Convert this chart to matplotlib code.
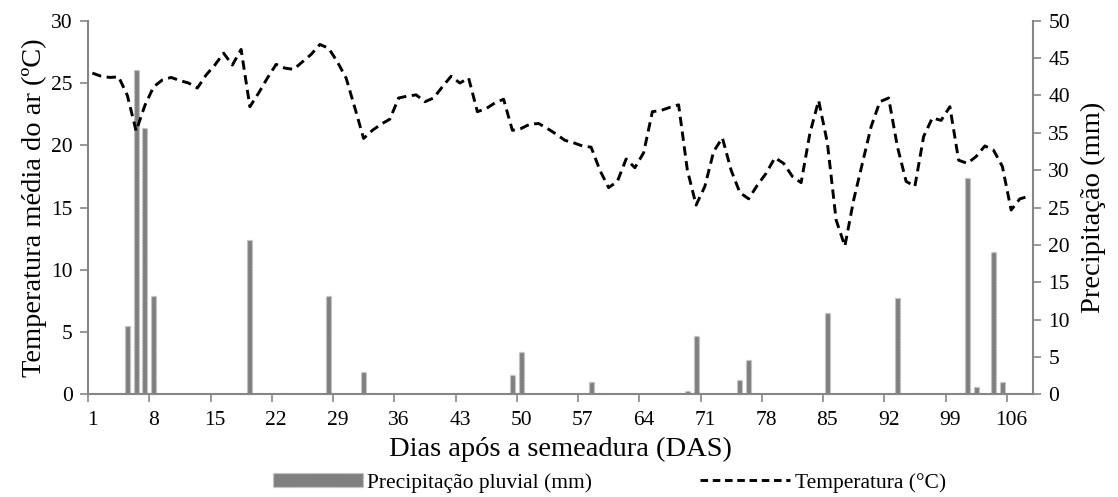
import numpy as np
import matplotlib
matplotlib.use("Agg")
import matplotlib.pyplot as plt
from matplotlib.patches import Patch
from matplotlib.lines import Line2D

plt.rcParams['font.family'] = ['Liberation Serif', 'DejaVu Serif']

# Days after sowing (DAS)
days = np.arange(1, 109)

# Mean daily air temperature (°C)
temperature = [
    25.8, 25.55, 25.45, 25.5, 24.0, 21.15, 23.2, 24.7, 25.25, 25.45,
    25.2, 25.0, 24.6, 25.65, 26.45, 27.4, 26.45, 27.7, 23.1, 24.2,
    25.4, 26.5, 26.2, 26.1, 26.7, 27.3, 28.1, 27.8, 26.7, 25.4,
    23.0, 20.55, 21.2, 21.7, 22.1, 23.8, 23.95, 24.05, 23.5, 23.8,
    24.7, 25.55, 25.0, 25.4, 22.7, 22.95, 23.4, 23.7, 21.2, 21.35,
    21.7, 21.75, 21.35, 20.9, 20.4, 20.2, 19.95, 19.85, 18.0, 16.6,
    17.1, 18.9, 18.2, 19.4, 22.7, 22.8, 23.05, 23.25, 18.0, 15.2,
    16.7, 19.5, 20.6, 18.0, 16.2, 15.7, 16.8, 17.75, 19.0, 18.55,
    17.5, 17.0, 20.95, 23.6, 20.2, 14.0, 11.9, 15.6, 18.55, 21.5,
    23.5, 23.8, 19.9, 17.1, 16.7, 20.7, 22.2, 22.0, 23.1, 18.8,
    18.55, 19.1, 19.95, 19.6, 18.3, 14.8, 15.7, 15.9,
]

# Rainfall events (day, mm)
rain_days = [5, 6, 7, 8, 19, 20, 23, 28, 32, 33, 49, 50, 58, 59, 69, 70,
             75, 76, 77, 85, 93, 95, 101, 102, 104, 105, 106, 107]
rain_mm = [9.1, 43.4, 35.7, 13.2, 20.6, 0.2, 0.2, 13.2, 3.0, 0.2, 2.6, 5.6,
           1.6, 0.2, 0.4, 7.8, 1.9, 4.6, 0.2, 10.9, 12.9, 0.2, 29.0, 1.0,
           19.0, 1.6, 0.2, 0.2]

tick_days = list(range(1, 109, 7))

precip = np.zeros(len(days))
for d, v in zip(rain_days, rain_mm):
    precip[d - 1] = v

W, H = 1118, 497
fig = plt.figure(figsize=(W / 100, H / 100), dpi=100)
ax = fig.add_axes([88 / W, 1 - 394.3 / H, (1033 - 88) / W, (394.3 - 20.8) / H])
ax2 = ax.twinx()
ax.set_zorder(ax2.get_zorder() + 1)
ax.patch.set_visible(False)

spine_col = '#868686'
bar_face = '#7f7f7f'
bar_edge = '#c8c8c8'
dash = (0, (3.2, 1.9))

# Rainfall bars on the right axis
ax2.bar(days, precip, width=0.55, color=bar_face, edgecolor=bar_edge,
        linewidth=1.0, linestyle=(0, (1, 1)))
ax2.set_ylim(0, 50)
ax2.set_yticks(np.arange(0, 51, 5))

# Temperature line on the left axis
ax.plot(days, temperature, color='black', lw=2.1, linestyle=dash)
ax.set_ylim(0, 30)
ax.set_yticks(np.arange(0, 31, 5))
ax.set_xlim(0.5, 108.5)

# Tick marks between categories, labels at category centres
ax.set_xticks(np.arange(0.5, 109, 7))
ax.set_xticklabels([])
ax.set_xticks(tick_days, minor=True)
ax.set_xticklabels([str(d) for d in tick_days], minor=True)
ax.tick_params(axis='x', which='minor', length=0, pad=12)
ax.tick_params(axis='x', which='major', length=6, width=1.2, color=spine_col, direction='out')

for a in (ax, ax2):
    for s in a.spines.values():
        s.set_visible(False)
ax.spines['left'].set_visible(True)
ax.spines['bottom'].set_visible(True)
ax2.spines['right'].set_visible(True)
for s in (ax.spines['left'], ax.spines['bottom'], ax2.spines['right']):
    s.set_color(spine_col)
    s.set_linewidth(1.5)

fs = 15.5
ax.tick_params(axis='y', length=6, width=1.2, color=spine_col, labelsize=fs, pad=5)
ax2.tick_params(axis='y', length=6, width=1.2, color=spine_col, labelsize=fs, pad=5)
ax.tick_params(axis='x', which='both', labelsize=fs)

lfs = 20.5
ax.set_xlabel('Dias após a semeadura (DAS)', fontsize=lfs, labelpad=5)
ax.set_ylabel('Temperatura média do ar (ºC)', fontsize=lfs, labelpad=3)
ax2.set_ylabel('Precipitação (mm)', fontsize=lfs, labelpad=8)

handles = [
    Patch(facecolor=bar_face, edgecolor=bar_edge, linewidth=1.0, linestyle=(0, (1, 1))),
    Line2D([0], [0], color='black', lw=2.1, linestyle=(0, (2.6, 1.6))),
]
fig.legend(handles, ['Precipitação pluvial (mm)', 'Temperatura (°C)'],
           loc='lower center', bbox_to_anchor=(0.545, -0.03), ncol=2, frameon=False,
           fontsize=15.5, handlelength=4.2, handleheight=0.6, columnspacing=5,
           handletextpad=0.2)

fig.savefig('out.png', dpi=100)
